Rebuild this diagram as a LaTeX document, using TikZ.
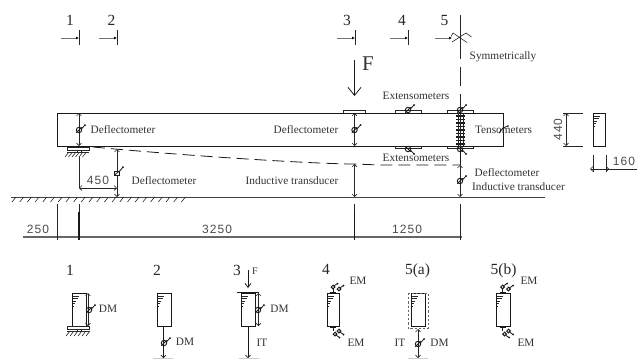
\documentclass[tikz,border=0pt]{standalone}
\usepackage{fontspec}
\setmainfont{Liberation Serif}
\newfontfamily\dimfont[LetterSpace=9]{Liberation Sans}
\usetikzlibrary{arrows.meta}
\tikzset{
  ln/.style={draw=black!90,line width=0.8pt},
  thinln/.style={draw=black!85,line width=0.6pt},
  bartip/.tip={Straight Barb[length=2.5pt,width=5pt,line width=0.55pt]},
  dim/.style={thinln,{bartip}-{bartip}},
  endarrow/.style={ln,-{bartip}},
  lab/.style={inner sep=0pt,font=\fontsize{11.3}{12}\selectfont,text=black!80},
  num/.style={inner sep=0pt,font=\fontsize{15.5}{16}\selectfont,text=black!85},
  dimlab/.style={inner sep=0pt,font=\dimfont\fontsize{12}{13}\selectfont,text=black!70},
  secarrow/.style={draw=black!55,line width=1pt,-{Latex[length=3pt,width=3pt,black]}},
  greyline/.style={draw=black!60,line width=1.1pt},
  baseline/.style={draw=black!20,line width=0.9pt},
}
% gauge symbol: circle, slash, and outward feeler with a dot
\newcommand{\gauge}[3][1]{%
  \begin{scope}[shift={(#2,#3)},yscale=#1]
    \draw[ln,line width=0.95pt] (0,0) circle (2.7pt);
    \draw[ln] (-2.7,2.7) -- (2.7,-2.7);
    \draw[ln] (2.4,-1) -- (6,-5);
    \fill[black!90] (6,-5) circle (1pt);
  \end{scope}}
\newcommand{\smallgauge}[3][1]{%
  \begin{scope}[shift={(#2,#3)},yscale=#1]
    \draw[ln,line width=1pt] (0,0) circle (1.8pt);
    \draw[ln] (1.2,-1.2) -- (4.5,-3.5);
    \fill[black!90] (4.5,-3.5) circle (1pt);
  \end{scope}}
% extensometer holder with gauge
\newcommand{\exten}[3]{%
  \draw[thinln] (#1-13,#2) -- (#1-13,#2+#3*2.7) -- (#1+13,#2+#3*2.7) -- (#1+13,#2);
  \gauge[#3*-1]{#1}{#2+#3*3}}
% hatching
\newcommand{\hatchrow}[4]{%
  \foreach \hx in {#1,#4,...,#2} \draw[thinln] (\hx,#3) -- (\hx-4,#3+5);}
% cross section
\newcommand{\crosssec}[4]{%
  \draw[ln] (#1,#3) rectangle (#2,#4);
  \draw[thinln] (#1+1,#3+3) -- (#1+7,#3+3) (#1+1,#3+5.5) -- (#1+6,#3+5.5) (#1+1,#3+8) -- (#1+4,#3+8) (#1+1,#3+10.5) -- (#1+3,#3+10.5) (#1+1,#3+13) -- (#1+2,#3+13);}
% pair of gauges on a section
\newcommand{\pairup}[2]{%
  \draw[ln,line width=1pt] (#1-6,#2) -- (#1-6,#2-5) (#1-9,#2-1) -- (#1-3,#2-1);
  \smallgauge{#1-6}{#2-6}
  \smallgauge{#1}{#2-4}}
\newcommand{\pairdn}[2]{%
  \draw[ln,line width=1pt] (#1-6,#2) -- (#1-6,#2+5) (#1-9,#2+1) -- (#1-3,#2+1);
  \smallgauge[-1]{#1-4}{#2+8}
  \smallgauge[-1]{#1}{#2+5}}
\begin{document}
\begin{tikzpicture}[x=1pt,y=-1pt]
\useasboundingbox (0,0) rectangle (637,359);
\fill[white] (0,0) rectangle (637,359);

% section marks
\foreach \ax in {79,117,355,408}{
  \draw[secarrow] (\ax-18,38) -- (\ax,38);
  \draw[thinln] (\ax,30) -- (\ax,45);}
\node[num] (n1) at (70,20) {1};
\node[num] (n2) at (111.5,20) {2};
\node[num] (n3) at (347,20) {3};
\node[num] (n4) at (402,20) {4};
\node[num] (n5) at (444.5,20) {5};
\draw[secarrow] (435,38) -- (452,38);

% symmetry line and symbol
\draw[thinln] (460,15) -- (460,59) (460,67) -- (460,86) (460,94) -- (460,113);
\draw[thinln] (451,36.5) -- (453,33) -- (467,42.5) (452,42) -- (466,33) -- (471.5,37);
\node[lab] (sym) at (503,57) {Symmetrically};

% beam
\draw[ln] (57,113) rectangle (503,146);
\node[lab] (tens) at (503.5,130) {Tensometers};
\draw[ln] (499,133) -- (503,128) -- (508,126);
\fill[black!90] (508,126) circle (0.9pt);

% load
\coordinate (f0) at (354.5,60);
\coordinate (f1) at (354.5,96);
\draw[ln,-{Straight Barb[length=8pt,width=13pt]}] (f0) -- (f1);
\node[inner sep=0pt,font=\fontsize{21}{22}\selectfont,text=black!80] (F) at (368,64) {F};
\draw[thinln] (343,113) -- (343,110.5) -- (365,110.5) -- (365,113);

% deflectometers
\draw[dim] (79,113) -- (79,146);
\gauge{79}{130}
\node[lab] (d1) at (123,130) {Deflectometer};
\draw[dim] (354.5,113) -- (354.5,146);
\gauge{354.5}{130}
\node[lab] (d2) at (306,130) {Deflectometer};

% support
\draw[thinln] (67,147.5) rectangle (89,150);
\draw[thinln] (77,150) rectangle (81,152);
\draw[thinln] (67,152) -- (89,152);
\hatchrow{69}{89}{152}{72.5}

% deflected shape
\draw[ln,dash pattern=on 12pt off 6pt] (93,147) .. controls (200,157) and (320,164) .. (354,164) -- (380,165) -- (460,165);

% ground
\draw[draw=black!75,line width=1pt] (11,197) -- (545,197);
\hatchrow{16}{186}{197}{23.7}

% column 2
\draw[dim] (117,149) -- (117,197);
\fill[white] (114.5,171) rectangle (119.5,175);
\draw[ln,line width=0.95pt] (114.5,171) rectangle (119.5,175);
\draw[ln] (114.5,175) -- (119.5,171) (119,172) -- (123,167);
\fill[black!90] (123,167) circle (1pt);
\node[lab] (d3) at (164,181) {Deflectometer};

% 450
\draw[thinln] (79,157) -- (79,188);
\draw[dim] (79,188) -- (117,188);
\node[dimlab] (d450) at (98,180) {450};

% column 3 below
\draw[dim] (354.5,164) -- (354.5,197);
\node[lab] (it1) at (292,181) {Inductive transducer};

% extensometers
\exten{408}{113}{-1}
\exten{408}{146}{1}
\node[lab] (e1) at (416,96) {Extensometers};
\node[lab] (e2) at (416,158) {Extensometers};

% midspan
\exten{460}{113}{-1}
\exten{460}{146}{1}
\draw[ln] (460,146) -- (460,165);
\foreach \yy in {116,119.5,123,126.5,130,133.5,137,140.5,144}
  \draw[ln,line width=1.3pt] (456,\yy) -- (465,\yy);
\draw[thinln] (458,113) -- (458,146) (460.5,113) -- (460.5,146) (463,113) -- (463,146);
\draw[dim] (460,165) -- (460,197);
\gauge{460}{181}
\node[lab] (d4) at (507,173) {Deflectometer};
\node[lab] (it2) at (518.5,187) {Inductive transducer};

% cross section at right
\crosssec{593}{605.5}{113}{146}
\draw[thinln] (563,113) -- (583,113) (563,146) -- (583,146);
\draw[dim] (566,113) -- (566,146);
\node[dimlab,rotate=90] (d440) at (558,129.5) {440};
\draw[thinln] (593,155) -- (593,172) (606,155) -- (606,172);
\draw[dim] (590,169) -- (609,169);
\draw[thinln] (606,169) -- (637,169);
\node[dimlab] (d160) at (624,161) {160};

% dimension line
\draw[greyline] (23,237) -- (462,237);
\draw[thinln] (57.5,204) -- (57.5,240) (79,204) -- (79,240) (354.5,204) -- (354.5,240) (460.5,204) -- (460.5,240);
\draw[ln,line width=1.3pt] (79,212) -- (79,240);
\draw[ln,line width=1pt] (354.5,212) -- (354.5,240);
\node[dimlab] (d250) at (38,229) {250};
\node[dimlab] (d3250) at (217,229) {3250};
\node[dimlab] (d1250) at (407,229) {1250};

% --- lower sections ---
% 1
\node[num] (b1) at (70,270) {1};
\crosssec{72}{86}{293}{326}
\draw[dim] (88,293) -- (88,326);
\gauge{89}{310}
\node[lab] (dm1) at (108,309) {DM};
\draw[thinln] (67,326.5) rectangle (89,329);
\draw[thinln] (77,329) rectangle (81,331);
\draw[thinln] (67,331) -- (89,331);
\hatchrow{70}{90}{331}{74}
% 2
\node[num] (b2) at (157,270) {2};
\crosssec{157}{171}{293}{326}
\draw[endarrow] (163.5,326) -- (163.5,358);
\gauge{164}{343}
\node[lab] (dm2) at (185,342) {DM};
\draw[baseline] (153,358.5) -- (173,358.5);
% 3
\node[num] (b3) at (237,270) {3};
\draw[ln,-{Straight Barb[length=4pt,width=6pt]}] (248,270) -- (248,288);
\node[inner sep=0pt,font=\fontsize{10}{11}\selectfont,text=black!80] (bF) at (255,271) {F};
\draw[ln,line width=1.2pt] (237,292.5) -- (259,292.5);
\crosssec{241}{255}{293}{326}
\draw[dim] (258.5,293) -- (258.5,326);
\gauge{258}{310}
\node[lab] (dm3) at (279.5,309) {DM};
\draw[endarrow] (248,326) -- (248,358);
\node[lab] (it3) at (262,343) {IT};
\draw[baseline] (239,358.5) -- (259,358.5);
% 4
\node[num] (b4) at (326,269) {4};
\crosssec{327}{339}{293}{326}
\pairup{339}{293}
\pairdn{339}{326}
\node[lab] (em1) at (358,281) {EM};
\node[lab] (em2) at (356,343) {EM};
% 5a
\node[num] (b5a) at (417.5,271) {5(a)};
\crosssec{411}{425}{293}{326}
\draw[draw=black!60,line width=0.8pt,dash pattern=on 2.2pt off 2pt] (408,293) rectangle (428,328.5);
\draw[dim] (418,329) -- (418,358);
\gauge{418}{344}
\node[lab] (it4) at (400,343) {IT};
\node[lab] (dm4) at (439.5,343) {DM};
\draw[baseline] (408,358.5) -- (428,358.5);
% 5b
\node[num] (b5b) at (503.5,271) {5(b)};
\crosssec{496}{510}{293}{326}
\pairup{508.5}{293}
\pairdn{508.5}{326}
\node[lab] (em3) at (529,281) {EM};
\node[lab] (em4) at (526,343) {EM};
\end{tikzpicture}
\end{document}
